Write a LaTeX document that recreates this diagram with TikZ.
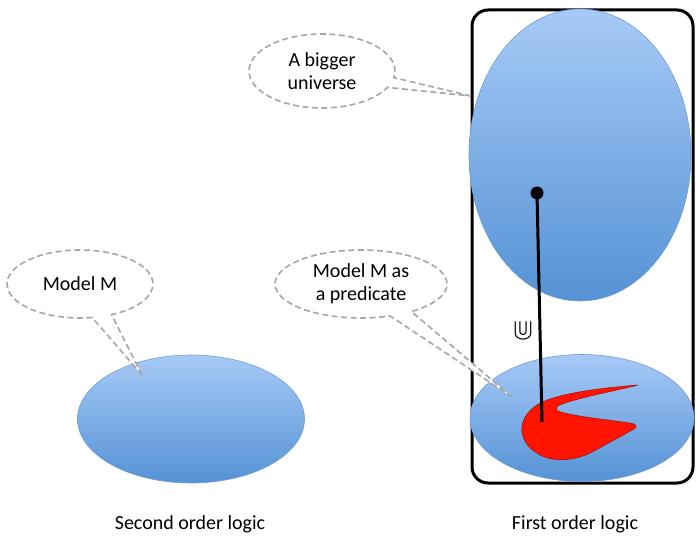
\documentclass[tikz,border=0pt]{standalone}
\usepackage{amssymb}
\usepackage{fontspec}
\setmainfont{Carlito}
\usetikzlibrary{shapes.geometric,shapes.callouts}

\definecolor{skytop}{HTML}{A7CAF7}
\definecolor{skybot}{HTML}{5592D5}
\definecolor{skyedge}{HTML}{6E9DD8}
\definecolor{bubble}{HTML}{A6A6A6}
\definecolor{predred}{HTML}{FF1400}

\begin{document}
\begin{tikzpicture}[x=1pt, y=-1pt, font=\fontsize{20}{23}\selectfont]
\tikzstyle{blob} = [ellipse, draw=skyedge, line width=.6pt, top color=skytop, bottom color=skybot, inner sep=0pt]
\tikzstyle{bubbly} = [ellipse callout, draw=bubble, dashed, dash pattern=on 6pt off 3.5pt, line width=1.6pt, fill=white, inner sep=0pt, align=center, callout pointer arc=16]
\useasboundingbox (0,0) rectangle (696,537);

% first order logic box
\draw[line width=3pt, rounded corners=16pt] (472,10) rectangle (693,483);

\node[blob, minimum width=222pt, minimum height=292pt] (big) at (580,155) {};
\node[blob, minimum width=224pt, minimum height=127pt] (model) at (582,418) {};
\node[blob, minimum width=227pt, minimum height=128pt] (second) at (191,419) {};

% the predicate
\draw[fill=predred, draw=red!60!black, line width=.4pt] (638,385) .. controls (600,388) and (548,394) .. (533,408)
  .. controls (518,420) and (516,442) .. (540,455)
  .. controls (556,463) and (577,460) .. (592,452)
  .. controls (607,444) and (625,434) .. (634,429)
  .. controls (638,426) and (636,424) .. (630,423)
  .. controls (610,420) and (570,416) .. (558,411)
  .. controls (555,409) and (556,406) .. (562,404)
  .. controls (585,396) and (620,390) .. (638,385) -- cycle;

\coordinate (dot) at (537,193);
\coordinate (end) at (542,422);
\draw[line width=3pt] (dot) -- (end);
\fill (dot) circle (6.5pt);
\node[font=\fontsize{30}{30}\selectfont] (cup) at (523,331) {$\Cup$};

% speech bubbles
\coordinate (tipU) at (471,96);
\coordinate (tipP) at (512,397);
\coordinate (tipM) at (142,375);
\node[bubbly, minimum width=146pt, minimum height=74pt, callout absolute pointer=(tipU)] (universe) at (322,71) {A bigger\\universe};
\node[bubbly, minimum width=172pt, minimum height=68pt, callout absolute pointer=(tipP)] (pred) at (361,284) {Model M as\\a predicate};
\node[bubbly, minimum width=146pt, minimum height=68pt, callout absolute pointer=(tipM)] (mm) at (80,284) {Model M};

\node (sol) at (190,524) {Second order logic};
\node (fol) at (575,524) {First order logic};
\end{tikzpicture}
\end{document}
